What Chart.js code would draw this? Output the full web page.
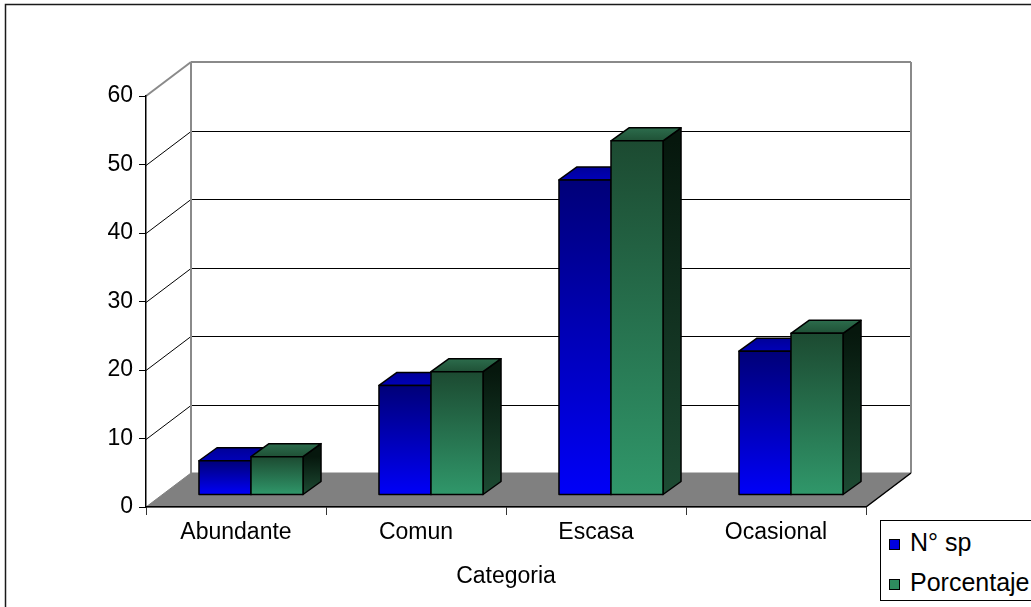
<!DOCTYPE html>
<html>
<head>
<meta charset="utf-8">
<script src="https://cdn.jsdelivr.net/npm/chart.js@4.4.1/dist/chart.umd.min.js"></script>
<style>
  html, body { margin: 0; padding: 0; background: #fff; }
  #wrap { position: relative; width: 1031px; height: 607px; overflow: hidden; }
  #legend {
    position: absolute; left: 880px; top: 520px; width: 180px; height: 79px;
    border: 1px solid #000; background: #fff;
    font-family: 'Liberation Sans', Arial, sans-serif; font-size: 25px; color: #000;
  }
  #legend .item { position: absolute; left: 8px; height: 26px; line-height: 26px; white-space: nowrap; }
  #legend .box { display: inline-block; width: 9px; height: 9px; border: 1px solid #000; margin-right: 10px; vertical-align: 1px; }
</style>
</head>
<body>
<div id="wrap">
  <canvas id="barChart" width="1031" height="607"></canvas>
  <div id="legend"></div>
</div>
<script>
// data
var categorias = ['Abundante', 'Comun', 'Escasa', 'Ocasional'];
var numSp = [5, 16, 46, 21];
var porcentaje = [5.6, 18.0, 51.7, 23.6];
var series = ['N\u00b0 sp', 'Porcentaje'];
var yTicks = [0, 10, 20, 30, 40, 50, 60];

// colours for each box face (front gradient top/bottom, lid, side)
var faces = [
  { front: ['#000078', '#0000f8'], lid: ['#000098', '#0000b8'], side: ['#00003a', '#00009a'], key: '#0000e0' },
  { front: ['#1c4a31', '#30976a'], lid: ['#2c6c4c', '#1f5136'], side: ['#06170d', '#1d4b33'], key: '#2e8b5e' }
];

var WALL = { dx: 45, dy: -34 };  // depth of the floor / side wall
var ROW = { dx: 15, dy: -12 };   // where the bar row sits on the floor
var BOX = { dx: 18, dy: -13 };   // depth of each bar

var FONT = { family: "'Liberation Sans', Arial, sans-serif", size: 23 };

function line(ctx, x1, y1, x2, y2) {
  ctx.beginPath();
  ctx.moveTo(x1, y1);
  ctx.lineTo(x2, y2);
  ctx.stroke();
}

function poly(ctx, pts, fill) {
  ctx.beginPath();
  ctx.moveTo(pts[0][0], pts[0][1]);
  for (var i = 1; i < pts.length; i++) ctx.lineTo(pts[i][0], pts[i][1]);
  ctx.closePath();
  ctx.fillStyle = fill;
  ctx.fill();
  ctx.stroke();
}

function grad(ctx, y0, y1, c) {
  var g = ctx.createLinearGradient(0, y0, 0, y1);
  g.addColorStop(0, c[0]);
  g.addColorStop(1, c[1]);
  return g;
}

// frame, back wall, side wall and floor
var walls = {
  id: 'walls',
  beforeDraw: function(chart) {
    var ctx = chart.ctx, a = chart.chartArea, y = chart.scales.y;
    ctx.save();
    ctx.strokeStyle = '#1a1a1a';
    ctx.lineWidth = 1.5;
    ctx.strokeRect(5.5, 4.5, 1100, 700);

    ctx.strokeStyle = '#000';
    ctx.lineWidth = 1;
    yTicks.forEach(function(v) {
      if (v === 0 || v === 60) return;
      var py = Math.round(y.getPixelForValue(v)) + 0.5;
      line(ctx, a.left, py, a.left + WALL.dx, py + WALL.dy);
      line(ctx, a.left + WALL.dx, py + WALL.dy, a.right + WALL.dx, py + WALL.dy);
    });

    var top = y.getPixelForValue(60);
    ctx.strokeStyle = '#8a8a8a';
    ctx.lineWidth = 2;
    line(ctx, a.left, top, a.left + WALL.dx, top + WALL.dy);
    line(ctx, a.left + WALL.dx, top + WALL.dy, a.right + WALL.dx, top + WALL.dy);
    line(ctx, a.left + WALL.dx, top + WALL.dy, a.left + WALL.dx, a.bottom + WALL.dy);
    line(ctx, a.right + WALL.dx, top + WALL.dy, a.right + WALL.dx, a.bottom + WALL.dy);

    ctx.strokeStyle = '#808080';
    ctx.lineWidth = 1;
    poly(ctx, [[a.left, a.bottom], [a.right, a.bottom],
               [a.right + WALL.dx, a.bottom + WALL.dy], [a.left + WALL.dx, a.bottom + WALL.dy]], '#808080');
    ctx.strokeStyle = '#000';
    ctx.lineWidth = 1.5;
    line(ctx, a.right, a.bottom, a.right + WALL.dx, a.bottom + WALL.dy);
    ctx.restore();
  }
};

// draws each bar as a shaded box from the bar elements Chart.js lays out
var boxes = {
  id: 'boxes',
  beforeDatasetsDraw: function(chart) {
    var ctx = chart.ctx;
    ctx.save();
    ctx.strokeStyle = '#000';
    ctx.lineWidth = 1.5;
    ctx.lineJoin = 'round';
    for (var k = 0; k < categorias.length; k++) {
      for (var d = 0; d < chart.data.datasets.length; d++) {
        var el = chart.getDatasetMeta(d).data[k];
        var p = el.getProps(['x', 'y', 'base', 'width'], true);
        var l = p.x - p.width / 2 + ROW.dx, r = p.x + p.width / 2 + ROW.dx;
        var t = p.y + ROW.dy, b = p.base + ROW.dy;
        var f = faces[d];
        poly(ctx, [[r, t], [r + BOX.dx, t + BOX.dy], [r + BOX.dx, b + BOX.dy], [r, b]], grad(ctx, t, b, f.side));
        poly(ctx, [[l, t], [l + BOX.dx, t + BOX.dy], [r + BOX.dx, t + BOX.dy], [r, t]], grad(ctx, t + BOX.dy, t, f.lid));
        poly(ctx, [[l, t], [r, t], [r, b], [l, b]], grad(ctx, t, b, f.front));
      }
    }
    ctx.restore();
    return false;
  }
};

var ctx = document.getElementById('barChart').getContext('2d');
var myChart = new Chart(ctx, {
  type: 'bar',
  data: {
    labels: categorias,
    datasets: [
      { label: series[0], data: numSp, backgroundColor: faces[0].key },
      { label: series[1], data: porcentaje, backgroundColor: faces[1].key }
    ]
  },
  options: {
    responsive: false,
    animation: false,
    layout: { padding: { left: 0, top: 96, right: 165, bottom: 0 } },
    datasets: { bar: { categoryPercentage: 0.578, barPercentage: 1 } },
    plugins: { legend: { display: false }, tooltip: { enabled: false } },
    scales: {
      x: {
        afterFit: function(s) { s.height = 100; },
        grid: { drawOnChartArea: false, tickLength: 8, color: '#333', offset: true },
        border: { color: '#000', width: 1.5 },
        ticks: { color: '#000', font: FONT, padding: 4, maxRotation: 0 },
        title: { display: true, text: 'Categoria', color: '#000', font: FONT, padding: { top: 0, bottom: 17 } }
      },
      y: {
        min: 0, max: 60,
        afterFit: function(s) { s.width = 146; },
        grid: { drawOnChartArea: false, tickLength: 7, color: '#000' },
        border: { color: '#000', width: 1.5 },
        ticks: { stepSize: 10, color: '#000', font: FONT, padding: 6 }
      }
    }
  },
  plugins: [walls, boxes]
});

// legend
var legend = document.getElementById('legend');
series.forEach(function(name, i) {
  var item = document.createElement('div');
  item.className = 'item';
  item.style.top = (i === 0 ? 8 : 48) + 'px';
  item.innerHTML = '<span class="box" style="background:' + faces[i].key + '"></span>' + name;
  legend.appendChild(item);
});
</script>
</body>
</html>
